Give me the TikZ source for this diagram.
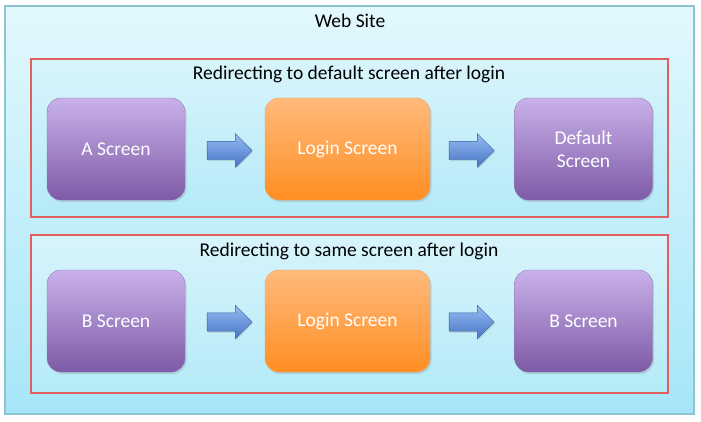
\documentclass[tikz,border=0pt]{standalone}
\usepackage{fontspec}
\setmainfont{Carlito}
\usepackage{tikz}
\usetikzlibrary{positioning,shapes.arrows,shadows}
\definecolor{siteTop}{HTML}{E2F8FD}
\definecolor{siteBot}{HTML}{A6E6F8}
\definecolor{siteLine}{HTML}{8EC3D3}
\definecolor{grpLine}{HTML}{E06060}
\definecolor{grpTop}{HTML}{D8F4FB}
\definecolor{grpBot}{HTML}{B4EAF8}
\definecolor{purpTop}{HTML}{C9B1EA}
\definecolor{purpBot}{HTML}{7D5AA6}
\definecolor{purpLine}{HTML}{8C78B4}
\definecolor{orTop}{HTML}{FFBA7C}
\definecolor{orBot}{HTML}{FF8E22}
\definecolor{orLine}{HTML}{F0A060}
\definecolor{arTop}{HTML}{94BCF2}
\definecolor{arBot}{HTML}{4874C6}

\begin{document}
\begin{tikzpicture}[x=1pt,y=-1pt]
\tikzstyle{site}=[rectangle, draw=siteLine, line width=1.2pt, top color=siteTop, bottom color=siteBot, minimum width=689pt, minimum height=408pt]
\tikzstyle{group}=[rectangle, top color=grpTop, bottom color=grpBot, minimum width=637pt, minimum height=158pt, postaction={draw=grpLine, line width=1.2pt}]
\tikzstyle{title}=[font=\fontsize{19.5}{23}\selectfont, text=black]
\tikzstyle{screen}=[rectangle, rounded corners=14pt, draw=purpLine, top color=purpTop, bottom color=purpBot, minimum width=138pt, minimum height=102pt, text=white, align=center, font=\fontsize{19.5}{23}\selectfont, drop shadow={opacity=0.25, shadow xshift=1.5pt, shadow yshift=-2pt}]
\tikzstyle{login}=[screen, draw=orLine, top color=orTop, bottom color=orBot, minimum width=165pt]
\tikzstyle{step arrow}=[single arrow, draw=arBot!80!black, line width=0.4pt, top color=arTop, bottom color=arBot, minimum height=45pt, minimum width=33pt, single arrow head extend=7.5pt, inner sep=0pt, drop shadow={opacity=0.25, shadow xshift=1pt, shadow yshift=-1.5pt}]
\useasboundingbox (0,0) rectangle (701,421);
\fill[white] (0,0) rectangle (701,421);
	\node[site] (site) at (349.5,210) {};
	\node[title] (site_t) at (350,21) {Web Site};
	% redirect to default screen
	\node[group] (grp_1) at (349.5,138) {};
	\node[title] (grp_1_t) at (349,74) {Redirecting to default screen after login};
	\node[screen] (a_scr) at (116,149) {A Screen};
	\node[login] (login_1) at (347.5,149) {Login Screen};
	\node[screen] (def_scr) at (583.5,149) {Default\\Screen};
	\node[step arrow] (ar_1) at (225,150.5) {\rule{0pt}{18pt}};
	\node[step arrow] (ar_2) at (467,150.5) {\rule{0pt}{18pt}};
	% redirect to same screen
	\node[group] (grp_2) at (349.5,314) {};
	\node[title] (grp_2_t) at (349,251) {Redirecting to same screen after login};
	\node[screen] (b_scr) at (116,321) {B Screen};
	\node[login] (login_2) at (347.5,321) {Login Screen};
	\node[screen] (b_scr_2) at (583.5,321) {B Screen};
	\node[step arrow] (ar_3) at (225,322) {\rule{0pt}{18pt}};
	\node[step arrow] (ar_4) at (467,322) {\rule{0pt}{18pt}};
\end{tikzpicture}
\end{document}
